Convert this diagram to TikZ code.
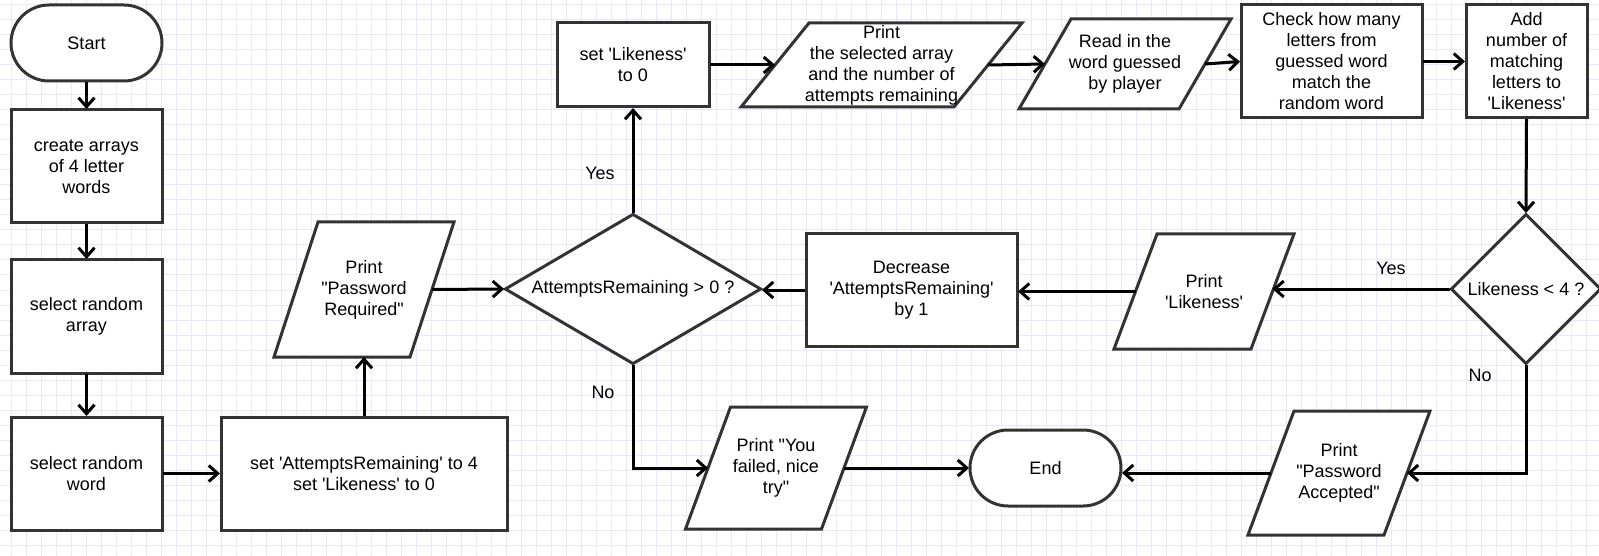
\documentclass[tikz,border=0pt]{standalone}
\usepackage{fontspec}
\setmainfont{Liberation Sans}[Ligatures=TeXOff]
\usetikzlibrary{arrows.meta,shapes.geometric}
\definecolor{gridc}{RGB}{232,232,250}
\definecolor{bordc}{RGB}{51,51,51}
\pgfdeclarelayer{gridl}
\pgfdeclarelayer{bgl}
\pgfsetlayers{gridl,bgl,main}
\newcommand\paraout[2]{%
  \begin{pgfonlayer}{bgl}
    \draw[draw=bordc,line width=3pt,fill=white,line join=miter]
      ([xshift=#2/2]#1.north west) -- ([xshift=#2/2]#1.north east) --
      ([xshift=-#2/2]#1.south east) -- ([xshift=-#2/2]#1.south west) -- cycle;
  \end{pgfonlayer}}
\tikzset{
  txt/.style={align=center, inner sep=0pt, font=\fontsize{18}{21}\selectfont, text=black},
  base/.style={txt, draw=bordc, line width=3pt, fill=white, outer sep=1pt},
  proc/.style 2 args={base, rectangle, minimum width=#1, minimum height=#2},
  term/.style={base, rectangle, rounded corners=38pt, minimum width=151, minimum height=76},
  decis/.style n args={3}{base, diamond, aspect=#3, minimum width=#1, minimum height=#2},
  ptext/.style 2 args={txt, outer sep=0pt, minimum width=#1, minimum height=#2},
  arr/.style={-{Straight Barb[length=9pt,width=16pt]}, line width=3pt, draw=black},
  lbl/.style={txt}
}
\begin{document}
\begin{tikzpicture}[x=1pt,y=-1pt]
\useasboundingbox (0,0) rectangle (1599,556);
\begin{pgfonlayer}{gridl}
  \fill[white] (0,0) rectangle (1599,556);
  \foreach \gx in {-4,11,...,1605} \draw[gridc,line width=1pt] (\gx,0) -- (\gx,556);
  \foreach \gy in {5,20,...,560} \draw[gridc,line width=1pt] (0,\gy) -- (1599,\gy);
\end{pgfonlayer}

% left column
\node[term] (start) at (86.5,43) {Start};
\node[proc={151}{113}] (create) at (86.5,166.5) {create arrays\\of 4 letter\\words};
\node[proc={151}{113}] (array) at (86.5,316.5) {select random\\array};
\node[proc={151}{113}] (word) at (86.5,473.5) {select random\\word};
\node[proc={286}{113}] (setAR) at (364,473.5) {set 'AttemptsRemaining' to 4\\set 'Likeness' to 0};

% parallelograms
\node[ptext={136}{135}] (PR) at (364,289.5) {Print\\"Password\\Required"};
\paraout{PR}{44}
\node[ptext={213}{84}] (PS) at (881.5,65) {Print\\the selected array\\and the number of\\attempts remaining};
\paraout{PS}{68}
\node[ptext={160}{90}] (RD) at (1125,64) {Read in the\\word guessed\\by player};
\paraout{RD}{52}
\node[ptext={137}{115}] (PL) at (1204,291.5) {Print\\'Likeness'};
\paraout{PL}{43}
\node[ptext={136}{122}] (YF) at (776,468) {Print "You\\failed, nice\\try"};
\paraout{YF}{45}
\node[ptext={136}{124}] (PA) at (1339,473) {Print\\"Password\\Accepted"};
\paraout{PA}{46}

% decisions
\node[decis={256}{150}{1.7}] (dA) at (633,289) {AttemptsRemaining > 0 ?};
\node[decis={150}{150}{1}] (dL) at (1526,289) {Likeness < 4 ?};

% other processes
\node[proc={152}{84}] (setL) at (633,65) {set 'Likeness'\\to 0};
\node[proc={181}{113}] (check) at (1331.5,61.5) {Check how many\\letters from\\guessed word\\match the\\random word};
\node[proc={121}{113}] (add) at (1526.5,61.5) {Add\\number of\\matching\\letters to\\'Likeness'};
\node[proc={211}{112}] (decr) at (911.5,290) {Decrease\\'AttemptsRemaining'\\by 1};
\node[term] (end) at (1045.5,468) {End};

% labels
\node[lbl] (yesA) at (600,173) {Yes};
\node[lbl] (noA) at (603,392) {No};
\node[lbl] (yesL) at (1391,268) {Yes};
\node[lbl] (noL) at (1480,375) {No};

% connectors
\draw[arr] (start.south) -- (create.north);
\draw[arr] (create.south) -- (array.north);
\draw[arr] (array.south) -- (word.north);
\draw[arr] (word.east) -- (setAR.west);
\draw[arr] (setAR.north) -- (PR.south);
\draw[arr] (PR.east) -- (dA.west);
\draw[arr] (dA.north) -- (setL.south);
\draw[arr] (setL.east) -- (PS.west);
\draw[arr] (PS.east) -- (RD.west);
\draw[arr] (RD.east) -- (check.west);
\draw[arr] (check.east) -- (add.west);
\draw[arr] (add.south) -- (dL.north);
\draw[arr] (dL.west) -- (dL.west -| PL.east);
\draw[arr] (PL.west) -- (PL.west -| decr.east);
\draw[arr] (decr.west) -- (decr.west -| dA.east);
\draw[arr] (dA.south) |- (YF.west);
\draw[arr] (YF.east) -- (end.west);
\draw[arr] (dL.south) |- (PA.east);
\draw[arr] (PA.west) -- (PA.west -| end.east);
\end{tikzpicture}
\end{document}
